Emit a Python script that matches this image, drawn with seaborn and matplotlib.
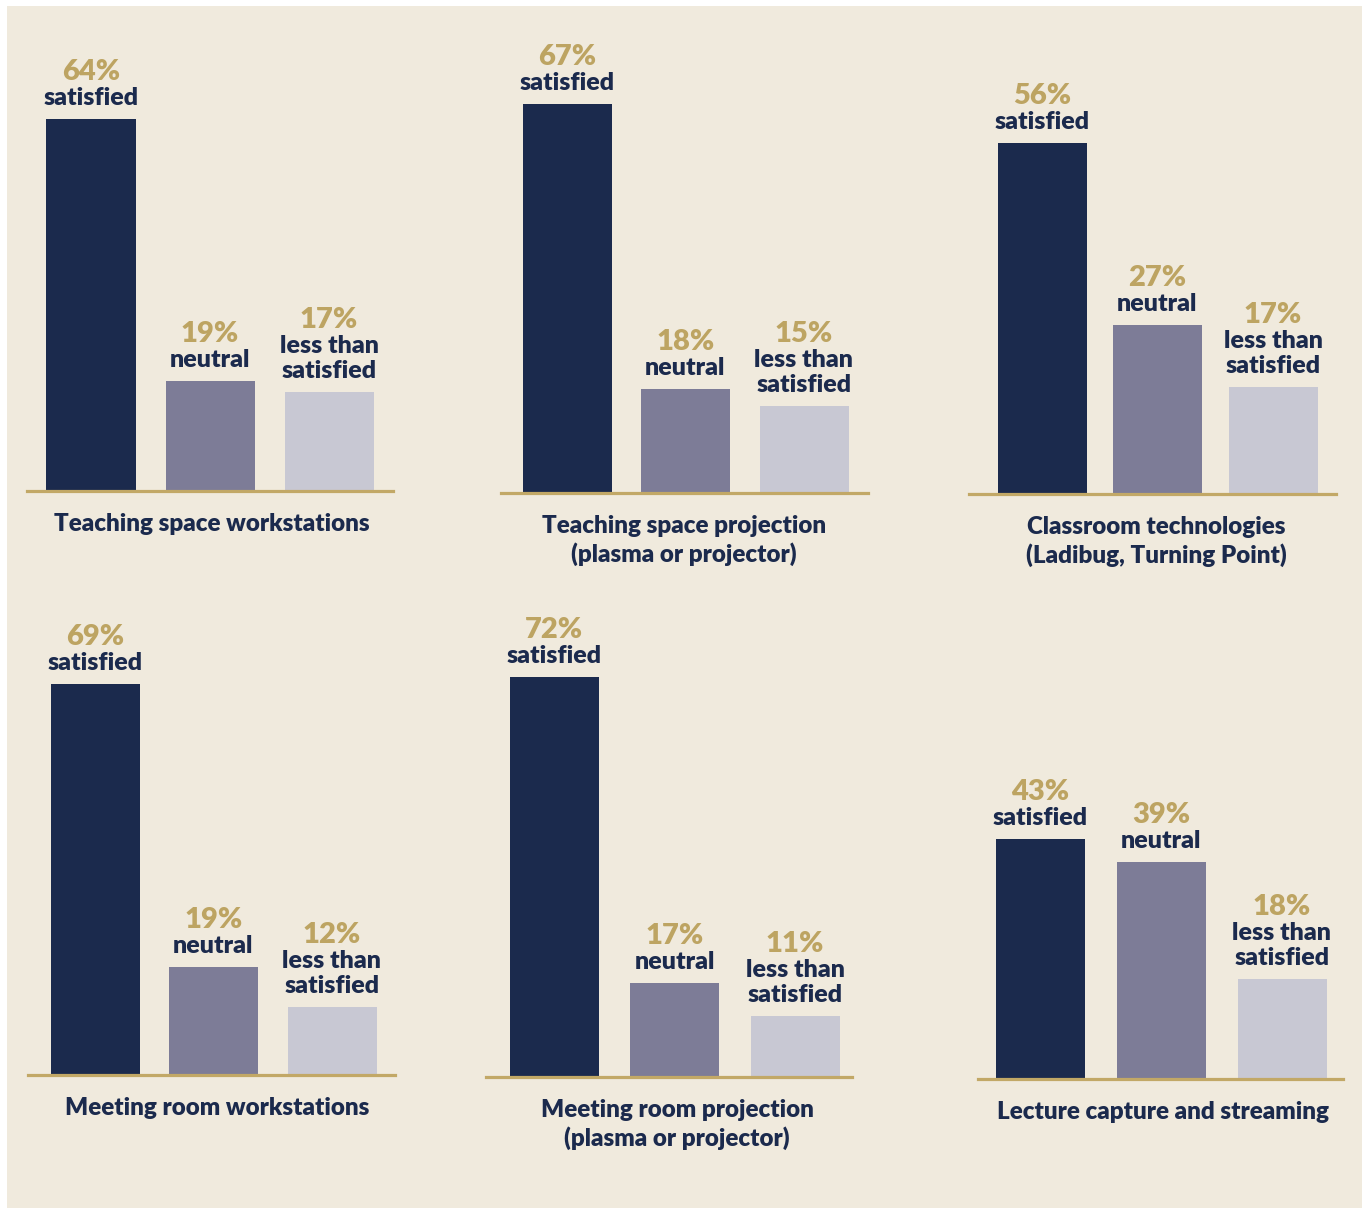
import matplotlib
matplotlib.use("Agg")
import matplotlib.pyplot as plt
import seaborn as sns
import pandas as pd
from matplotlib.patches import Rectangle

# Survey results: share of respondents per satisfaction level
panels = [
    "Teaching space workstations",
    "Teaching space projection\n(plasma or projector)",
    "Classroom technologies\n(Ladibug, Turning Point)",
    "Meeting room workstations",
    "Meeting room projection\n(plasma or projector)",
    "Lecture capture and streaming",
]
levels = ["satisfied", "neutral", "less than\nsatisfied"]
satisfied = [64, 67, 56, 69, 72, 43]
neutral = [19, 18, 27, 19, 17, 39]
less_than_satisfied = [17, 15, 17, 12, 11, 18]

palette = {"satisfied": "#1B2A4D", "neutral": "#7D7C97", "less than\nsatisfied": "#C8C8D3"}
BG = "#F0EADD"
GOLD_LINE = "#C2A866"
GOLD_TEXT = "#BDA462"
NAVY = "#1B2A4D"
WEIGHT = "heavy"

W, H = 1367, 1210
sns.set_theme(style="white")
plt.rcParams["font.family"] = ["Lato", "DejaVu Sans"]
plt.rcParams["font.weight"] = "bold"

fig = plt.figure(figsize=(W / 100, H / 100), dpi=100, facecolor="white")
fig.add_artist(Rectangle((7 / W, 1 - 1208 / H), (1362 - 7) / W, (1208 - 6) / H,
                         transform=fig.transFigure, facecolor=BG, edgecolor="none", zorder=0))

# panel layout in pixels: baseline left/right ends, baseline y, pixels per point,
# first and last bar centres, title centre x
layout = [
    (27, 393, 491, 5.81, 91, 329, 212),
    (501, 868, 493, 5.80, 567, 804, 684),
    (969, 1336, 494, 6.27, 1042, 1273, 1156),
    (28, 395, 1075, 5.67, 95, 332, 217),
    (486, 852, 1077, 5.55, 554, 795, 677),
    (978, 1343, 1079, 5.575, 1040, 1282, 1163),
]
BAR_PX = 89

for i, name in enumerate(panels):
    left, right, base, scale, c0, c2, tx = layout[i]
    ymax = 100
    top = base - ymax * scale
    step = (c2 - c0) / 2
    ax = fig.add_axes([left / W, 1 - base / H, (right - left) / W, (base - top) / H])
    ax.set_facecolor("none")
    df = pd.DataFrame({
        "level": levels,
        "value": [satisfied[i], neutral[i], less_than_satisfied[i]],
    })
    sns.barplot(data=df, x="level", y="value", hue="level", palette=palette,
                order=levels, hue_order=levels, width=BAR_PX / step, dodge=False,
                legend=False, ax=ax, saturation=1, edgecolor="none", linewidth=0)
    ax.set_xlim(-(c0 - left) / step, 2 + (right - c2) / step)
    ax.set_ylim(0, ymax)
    ax.set_xlabel("")
    ax.set_ylabel("")
    ax.set_xticks([])
    ax.set_yticks([])
    for s in ["top", "left", "right"]:
        ax.spines[s].set_visible(False)
    ax.spines["bottom"].set_color(GOLD_LINE)
    ax.spines["bottom"].set_linewidth(2.3)
    ax.spines["bottom"].set_zorder(5)

    for j, lev in enumerate(levels):
        v = df["value"][j]
        lines = lev.split("\n")
        n = len(lines)
        for k, line in enumerate(reversed(lines)):
            ax.annotate(line, (j, v), xytext=(0, 14 + 25 * k), textcoords="offset pixels",
                        ha="center", va="baseline", fontsize=18, fontweight=WEIGHT,
                        color=NAVY, annotation_clip=False)
        ax.annotate(f"{v}%", (j, v), xytext=(0, 14 + 25 * n), textcoords="offset pixels",
                    ha="center", va="baseline", fontsize=21, fontweight=WEIGHT,
                    color=GOLD_TEXT, annotation_clip=False)

    for k, tline in enumerate(name.split("\n")):
        fig.text(tx / W, 1 - (base + 40 + 29 * k) / H, tline, ha="center", va="baseline",
                 fontsize=17.4, fontweight=WEIGHT, color=NAVY)

fig.savefig("out.png", dpi=100, facecolor="white")
